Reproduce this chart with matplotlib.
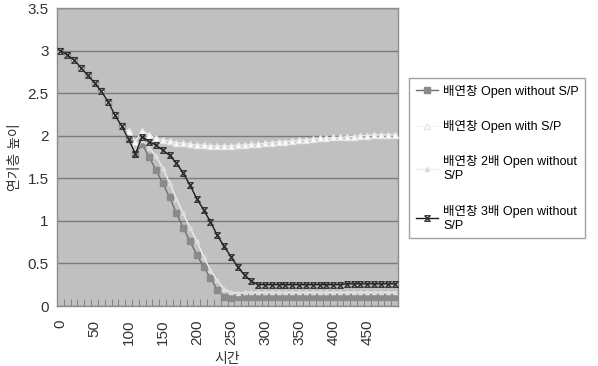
import matplotlib
matplotlib.use("Agg")
import matplotlib.pyplot as plt
import numpy as np
from matplotlib.path import Path

plt.rcParams['font.family'] = ['Liberation Sans', 'Noto Sans CJK KR']

# ================= data (time step 10 s, 0..490) =================
time = list(range(0, 500, 10))

common = [3.00, 2.95, 2.89, 2.80, 2.71, 2.62, 2.52, 2.40, 2.24, 2.11]

open_no_sp = common + [1.96, 1.79, 1.90, 1.75, 1.60, 1.44, 1.28, 1.09, 0.92, 0.76,
                       0.60, 0.46, 0.33, 0.19, 0.11, 0.09] + [0.10] * 24

open_sp = common + [2.05, 1.93, 2.06, 2.01, 1.97, 1.95, 1.94, 1.92, 1.91, 1.90,
                    1.89, 1.89, 1.88, 1.88, 1.88, 1.88, 1.89, 1.89, 1.90, 1.90,
                    1.91, 1.92, 1.93, 1.93, 1.94, 1.95, 1.95, 1.96, 1.97, 1.97,
                    1.98, 1.98, 1.99, 1.99, 2.00, 2.00, 2.01, 2.01, 2.01, 2.01]

open2_no_sp = common + [1.96, 1.82, 1.95, 1.86, 1.76, 1.62, 1.45, 1.26, 1.09, 0.92,
                        0.76, 0.58, 0.42, 0.30, 0.20, 0.16, 0.15] + [0.16] * 23

open3_no_sp = common + [1.96, 1.79, 1.99, 1.93, 1.89, 1.83, 1.77, 1.68, 1.56, 1.42,
                        1.26, 1.13, 0.99, 0.83, 0.70, 0.58, 0.46, 0.36, 0.29, 0.25] \
              + [0.25] * 12 + [0.26] * 8

labels = ['배연창 Open without S/P', '배연창 Open with S/P',
          '배연창 2배 Open without\nS/P', '배연창 3배 Open without\nS/P']

# hourglass marker like the excel one
hourglass = Path([(-1, 1), (1, 1), (-1, -1), (1, -1), (-1, 1)])

fig = plt.figure(figsize=(5.98, 3.66), dpi=100)
ax = fig.add_axes([57 / 598, 1 - 306 / 366, 341 / 598, 298 / 366])
ax.set_facecolor('#c0c0c0')

ax.plot(time, open_no_sp, '-', color='#6e6e6e', lw=1, marker='s', ms=3.8,
        mfc='#8a8a8a', mec='#8a8a8a', label=labels[0], zorder=3)
ax.plot(time, open_sp, '-', color='#f4f4f4', lw=0.8, marker='^', ms=4,
        mfc='#ffffff', mec='#e8e8e8', label=labels[1], zorder=3)
ax.plot(time, open2_no_sp, '-', color='#eeeeee', lw=1, marker='^', ms=3,
        mfc='#dcdcdc', mec='#dcdcdc', label=labels[2], zorder=3)
ax.plot(time, open3_no_sp, '-', color='#1a1a1a', lw=1, marker=hourglass, ms=4,
        mfc='none', mec='#2a2a2a', mew=0.9, label=labels[3], zorder=4)

ax.set_xlim(-5, 495)
ax.set_ylim(0, 3.5)
ax.set_yticks(np.arange(0, 3.51, 0.5))
ax.set_yticklabels(['0', '0.5', '1', '1.5', '2', '2.5', '3', '3.5'], fontsize=11, color='#333333')
ax.yaxis.grid(True, color='#7a7a7a', lw=1)
ax.set_axisbelow(True)

# labels every 50 s, tick marks between categories
ax.set_xticks(range(0, 500, 50))
ax.set_xticklabels([str(t) for t in range(0, 500, 50)], rotation=90, fontsize=11, color='#333333')
ax.set_xticks(np.arange(-5, 500, 10), minor=True)
ax.tick_params(axis='x', which='major', length=0, pad=10)
ax.tick_params(axis='x', which='minor', direction='in', length=5, color='#7a7a7a')
ax.tick_params(axis='y', length=0, pad=6)

for s in ax.spines.values():
    s.set_color('#8c8c8c')
    s.set_linewidth(1)

ax.set_ylabel('연기층 높이', fontsize=10, color='#333333', labelpad=4)
ax.set_xlabel('시간', fontsize=10, color='#333333', labelpad=5)

fig.legend(loc='upper left', bbox_to_anchor=(403 / 598, 1 - 72 / 366), fontsize=9,
           frameon=True, fancybox=False, edgecolor='#8c8c8c', handlelength=1.8,
           handletextpad=0.4, labelspacing=1.8, borderpad=0.5)

plt.savefig('out.png', dpi=100)
